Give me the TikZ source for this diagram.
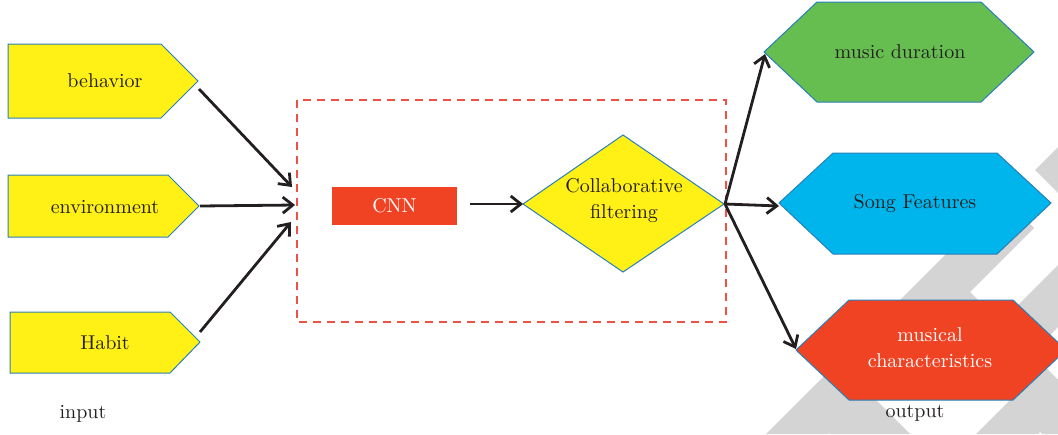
\documentclass[tikz,border=0pt]{standalone}
\usetikzlibrary{arrows.meta}
\definecolor{wm}{RGB}{212,212,212}
\definecolor{ylw}{RGB}{255,240,22}
\definecolor{edgeblue}{RGB}{41,128,185}
\definecolor{redf}{RGB}{239,67,36}
\definecolor{grn}{RGB}{102,189,80}
\definecolor{blu}{RGB}{0,181,236}
\definecolor{framered}{RGB}{236,82,70}
\definecolor{ink}{RGB}{35,31,32}
\begin{document}
\begin{tikzpicture}[x=0.5pt,y=-0.5pt,
  shapebox/.style={draw=edgeblue, line width=0.5pt},
  lbl/.style={font=\fontsize{10}{13}\selectfont, text=ink, align=center, inner sep=0pt},
  wlbl/.style={font=\fontsize{10}{13}\selectfont, text=white, align=center, inner sep=0pt},
  arr/.style={draw=ink, line width=1.4pt, -{Straight Barb[length=5pt,width=8pt,line width=1.4pt]}}]
\useasboundingbox (0,0) rectangle (1058,434);
\clip (0,0) rectangle (1058,434);
% watermark
\fill[wm] (766,434) -- (828,434) -- (1034,228) -- (1003,197) -- cycle;
\fill[wm] (818,422) -- (858,382) -- (910,434) -- (830,434) -- cycle;
\fill[wm] (924,316) -- (959,281) -- (1058,380) -- (1058,434) -- (1042,434) -- cycle;
\fill[wm] (976,434) -- (1038,434) -- (1058,414) -- (1058,380) -- (1044,366) -- cycle;
\fill[wm] (1000.5,322.5) -- (1058,265) -- (1058,327) -- (1031.5,353.5) -- cycle;
\fill[wm] (1035,170) -- (1058,147) -- (1058,193) -- cycle;
% input pentagons
\filldraw[shapebox, fill=ylw] (8,44) -- (161,44) -- (198,81) -- (161,118) -- (8,118) -- cycle;
\filldraw[shapebox, fill=ylw] (8,175) -- (168,175) -- (199,206) -- (168,237) -- (8,237) -- cycle;
\filldraw[shapebox, fill=ylw] (10,312) -- (170,312) -- (200,342) -- (170,373) -- (10,373) -- cycle;
\node[lbl] (beh) at (105,81) {behavior};
\node[lbl] (env) at (105,207) {environment};
\node[lbl] (hab) at (105,343) {Habit};
\node[lbl] (inp) at (83,414) {input};
% dashed frame
\draw[framered, line width=0.7pt, dash pattern=on 4pt off 3pt] (297,100) rectangle (726,322);
% CNN
\node[fill=redf, minimum width=62.5pt, minimum height=19pt, inner sep=0pt,
      font=\fontsize{10}{13}\selectfont, text=white] (cnn) at (394.5,206) {CNN};
% diamond
\filldraw[shapebox, fill=ylw] (523,204) -- (623,135) -- (724,204) -- (623,272) -- cycle;
\node[lbl] (cf) at (624,201) {Collaborative\\filtering};
% output hexagons
\filldraw[shapebox, fill=grn] (764,52) -- (817,2) -- (981,2) -- (1034,52) -- (981,102) -- (817,102) -- cycle;
\filldraw[shapebox, fill=blu] (779,203) -- (833,153) -- (997,153) -- (1051,203) -- (997,254) -- (833,254) -- cycle;
\filldraw[shapebox, fill=redf] (796,350) -- (849,300) -- (1013,300) -- (1066,350) -- (1013,400) -- (849,400) -- cycle;
\node[lbl] (md) at (900,52) {music duration};
\node[lbl] (sf) at (915,204) {Song Features};
\node[wlbl] (mc) at (930,348) {musical\\characteristics};
\node[lbl] (outp) at (915,413) {output};
% connector end points
\coordinate (behS) at (199,89);
\coordinate (envS) at (200,206);
\coordinate (habS) at (200,332);
\coordinate (inA) at (292,187);
\coordinate (inB) at (295,205);
\coordinate (inC) at (291,222);
\coordinate (cnnS) at (470,204);
\coordinate (cfL) at (523,204);
\coordinate (cfR) at (725,204);
\coordinate (mdL) at (765,54);
\coordinate (sfL) at (779,206);
\coordinate (mcL) at (796,349);
% connectors
\draw[arr] (behS) -- (inA);
\draw[arr] (envS) -- (inB);
\draw[arr] (habS) -- (inC);
\draw[arr] (cnnS) -- (cfL);
\draw[arr] (cfR) -- (mdL);
\draw[arr] (cfR) -- (sfL);
\draw[arr] (cfR) -- (mcL);
\end{tikzpicture}
\end{document}
